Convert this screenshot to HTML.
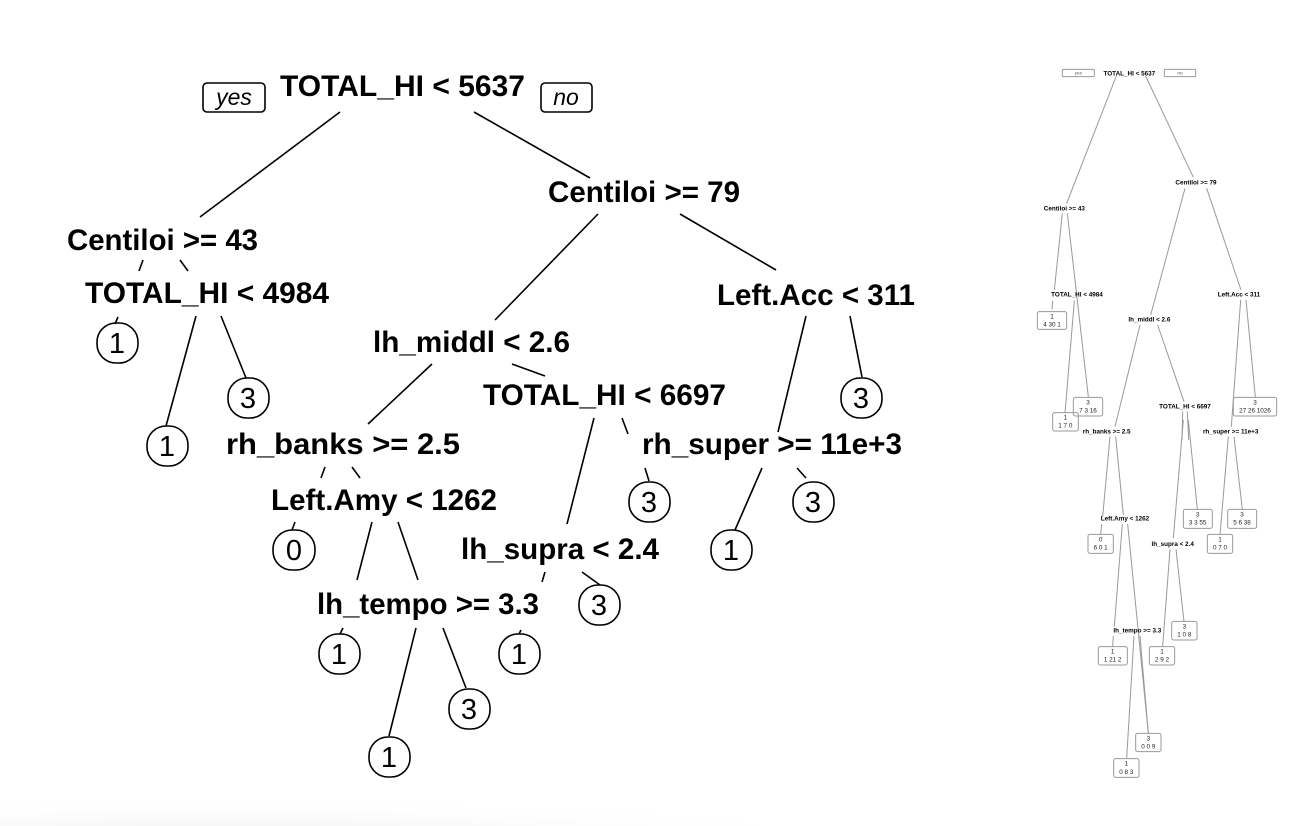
<!DOCTYPE html>
<html><head><meta charset="utf-8"><style>
html,body{margin:0;padding:0;background:#fff;}
svg{display:block;}
.l{font-family:"Liberation Sans",sans-serif;font-weight:bold;font-size:30px;fill:#000;}
.n{font-family:"Liberation Sans",sans-serif;font-size:29px;fill:#000;text-anchor:middle;}
.s{font-family:"Liberation Sans",sans-serif;font-weight:bold;font-size:19px;fill:#000;text-anchor:middle;}
.b{font-family:"Liberation Sans",sans-serif;font-size:19px;fill:#222;text-anchor:middle;}
</style></head><body>
<svg width="1306" height="826" viewBox="0 0 1306 826" xmlns="http://www.w3.org/2000/svg">
<defs><radialGradient id="sh" cx="0.3" cy="1.3" r="0.9"><stop offset="0" stop-color="#ececec"/><stop offset="1" stop-color="#fff" stop-opacity="0"/></radialGradient></defs>
<rect x="0" y="780" width="760" height="46" fill="url(#sh)"/>
<g stroke="#000" stroke-width="1.6" fill="none">
<line x1="340" y1="112" x2="200" y2="217"/><line x1="474" y1="112" x2="590" y2="178"/>
<line x1="143" y1="260" x2="139" y2="271"/><line x1="180" y1="260" x2="188" y2="271"/>
<line x1="118" y1="317" x2="115" y2="324"/><line x1="196" y1="316" x2="166" y2="426"/><line x1="221" y1="316" x2="246" y2="378"/>
<line x1="598" y1="214" x2="495" y2="320"/><line x1="680" y1="214" x2="776" y2="270"/>
<line x1="432" y1="364" x2="368" y2="424"/><line x1="512" y1="364" x2="545" y2="376"/>
<line x1="806" y1="316" x2="778" y2="432"/><line x1="850" y1="316" x2="862" y2="377"/>
<line x1="594" y1="418" x2="567" y2="524"/><line x1="622" y1="418" x2="628" y2="434"/>
<line x1="325" y1="467" x2="321" y2="478"/><line x1="352" y1="467" x2="360" y2="478"/>
<line x1="762" y1="468" x2="735" y2="530"/><line x1="797" y1="468" x2="806" y2="478"/>
<line x1="645" y1="468" x2="649" y2="481"/>
<line x1="295" y1="522" x2="292" y2="530"/><line x1="372" y1="522" x2="357" y2="580"/><line x1="398" y1="522" x2="418" y2="580"/>
<line x1="545" y1="572" x2="542" y2="582"/><line x1="582" y1="572" x2="600" y2="585"/>
<line x1="343" y1="628" x2="340" y2="634"/><line x1="416" y1="628" x2="389" y2="736"/><line x1="443" y1="628" x2="466" y2="688"/>
<line x1="521" y1="630" x2="519" y2="634"/>
<rect x="203" y="83" width="62" height="29" rx="4"/><rect x="541" y="83" width="51" height="29" rx="4"/>
<rect x="97" y="323" width="41" height="40" rx="19"/>
<rect x="228" y="378" width="41" height="40" rx="19"/>
<rect x="147" y="426" width="41" height="40" rx="19"/>
<rect x="841" y="378" width="41" height="40" rx="19"/>
<rect x="273" y="530" width="42" height="40" rx="19"/>
<rect x="629" y="482" width="41" height="40" rx="19"/>
<rect x="793" y="482" width="41" height="40" rx="19"/>
<rect x="711" y="530" width="41" height="40" rx="19"/>
<rect x="579" y="585" width="41" height="40" rx="19"/>
<rect x="319" y="634" width="41" height="40" rx="19"/>
<rect x="499" y="634" width="41" height="40" rx="19"/>
<rect x="449" y="689" width="41" height="40" rx="19"/>
<rect x="369" y="737" width="41" height="40" rx="19"/>
</g>
<g class="l">
<text class="l" x="280" y="96" textLength="245" lengthAdjust="spacingAndGlyphs">TOTAL_HI &lt; 5637</text>
<text class="l" x="548" y="202" textLength="192" lengthAdjust="spacingAndGlyphs">Centiloi &gt;= 79</text>
<text class="l" x="67" y="250" textLength="191" lengthAdjust="spacingAndGlyphs">Centiloi &gt;= 43</text>
<text class="l" x="85" y="303" textLength="244" lengthAdjust="spacingAndGlyphs">TOTAL_HI &lt; 4984</text>
<text class="l" x="717" y="305" textLength="198" lengthAdjust="spacingAndGlyphs">Left.Acc &lt; 311</text>
<text class="l" x="373" y="352" textLength="197" lengthAdjust="spacingAndGlyphs">lh_middl &lt; 2.6</text>
<text class="l" x="483" y="405" textLength="243" lengthAdjust="spacingAndGlyphs">TOTAL_HI &lt; 6697</text>
<text class="l" x="226" y="454" textLength="234" lengthAdjust="spacingAndGlyphs">rh_banks &gt;= 2.5</text>
<text class="l" x="642" y="454" textLength="260" lengthAdjust="spacingAndGlyphs">rh_super &gt;= 11e+3</text>
<text class="l" x="271" y="510" textLength="226" lengthAdjust="spacingAndGlyphs">Left.Amy &lt; 1262</text>
<text class="l" x="461" y="559" textLength="198" lengthAdjust="spacingAndGlyphs">lh_supra &lt; 2.4</text>
<text class="l" x="317" y="614" textLength="222" lengthAdjust="spacingAndGlyphs">lh_tempo &gt;= 3.3</text>
</g>
<text x="234" y="105" font-family="Liberation Sans" font-style="italic" font-size="23" text-anchor="middle">yes</text>
<text x="566" y="105" font-family="Liberation Sans" font-style="italic" font-size="23" text-anchor="middle">no</text>
<text class="n" x="117" y="353">1</text><text class="n" x="248" y="408">3</text><text class="n" x="167" y="456">1</text>
<text class="n" x="861" y="408">3</text><text class="n" x="294" y="560">0</text><text class="n" x="649" y="512">3</text>
<text class="n" x="813" y="512">3</text><text class="n" x="731" y="560">1</text><text class="n" x="599" y="615">3</text>
<text class="n" x="339" y="664">1</text><text class="n" x="519" y="664">1</text><text class="n" x="469" y="719">3</text>
<text class="n" x="389" y="767">1</text>

<g transform="translate(1030,60) scale(0.33333)">
<g stroke="#999" stroke-width="3" fill="none">
<rect x="97" y="28" width="96" height="22" rx="3"/><rect x="403" y="28" width="94" height="22" rx="3"/>
<line x1="259" y1="48" x2="110" y2="430"/><line x1="347" y1="48" x2="490" y2="352"/>
<line x1="97" y1="460" x2="73" y2="690"/><line x1="112" y1="460" x2="175" y2="1010"/>
<line x1="68" y1="722" x2="66" y2="748"/><line x1="133" y1="722" x2="105" y2="1060"/>
<line x1="465" y1="385" x2="362" y2="765"/><line x1="530" y1="385" x2="633" y2="690"/>
<line x1="330" y1="795" x2="255" y2="1100"/><line x1="383" y1="795" x2="462" y2="1025"/>
<line x1="632" y1="720" x2="604" y2="1100"/><line x1="648" y1="720" x2="676" y2="1012"/>
<line x1="458" y1="1055" x2="456" y2="1140"/><line x1="472" y1="1055" x2="476" y2="1140"/>
<rect x="22" y="755" width="88" height="53" rx="6"/>
<rect x="130" y="1012" width="88" height="56" rx="6"/>
<rect x="68" y="1058" width="77" height="55" rx="6"/>
<rect x="610" y="1012" width="130" height="56" rx="6"/>
</g>
<text x="145" y="44" font-family="Liberation Sans" font-size="14" font-style="italic" text-anchor="middle" fill="#555">yes</text>
<text x="450" y="44" font-family="Liberation Sans" font-size="14" font-style="italic" text-anchor="middle" fill="#555">no</text>
<text class="s" x="298" y="46">TOTAL_HI &lt; 5637</text>
<text class="s" x="498" y="374">Centiloi &gt;= 79</text>
<text class="s" x="103" y="451">Centiloi &gt;= 43</text>
<text class="s" x="141" y="710">TOTAL_HI &lt; 4984</text>
<text class="s" x="627" y="710">Left.Acc &lt; 311</text>
<text class="s" x="358" y="785">lh_middl &lt; 2.6</text>
<text class="s" x="465" y="1046">TOTAL_HI &lt; 6697</text>
<text class="b" x="66" y="776">1</text><text class="b" x="66" y="800">4 30 1</text>
<text class="b" x="174" y="1033">3</text><text class="b" x="174" y="1058">7 3 16</text>
<text class="b" x="106" y="1079">1</text><text class="b" x="106" y="1103">1 7 0</text>
<text class="b" x="675" y="1033">3</text><text class="b" x="675" y="1058">27 26 1026</text>
</g>
<g transform="translate(1080,420) scale(0.33333)">
<g stroke="#999" stroke-width="3" fill="none">
<line x1="90" y1="50" x2="68" y2="290"/><line x1="107" y1="50" x2="130" y2="285"/>
<line x1="445" y1="50" x2="420" y2="345"/><line x1="462" y1="50" x2="487" y2="268"/>
<line x1="310" y1="0" x2="280" y2="355"/><line x1="325" y1="0" x2="352" y2="268"/>
<line x1="65" y1="312" x2="62" y2="342"/><line x1="127" y1="312" x2="103" y2="620"/>
<line x1="143" y1="312" x2="205" y2="940"/>
<line x1="270" y1="388" x2="248" y2="678"/><line x1="288" y1="388" x2="312" y2="605"/>
<line x1="100" y1="648" x2="98" y2="680"/><line x1="162" y1="648" x2="140" y2="1015"/><line x1="180" y1="648" x2="205" y2="940"/>
<rect x="24" y="343" width="76" height="57" rx="6"/>
<rect x="310" y="268" width="87" height="57" rx="6"/>
<rect x="443" y="268" width="87" height="57" rx="6"/>
<rect x="382" y="343" width="76" height="57" rx="6"/>
<rect x="275" y="604" width="76" height="56" rx="6"/>
<rect x="55" y="680" width="87" height="55" rx="6"/>
<rect x="208" y="680" width="76" height="55" rx="6"/>
<rect x="167" y="940" width="76" height="55" rx="6"/>
<rect x="101" y="1016" width="76" height="56" rx="6"/>
</g>
<text class="s" x="80" y="41">rh_banks &gt;= 2.5</text>
<text class="s" x="452" y="41">rh_super &gt;= 11e+3</text>
<text class="s" x="135" y="301">Left.Amy &lt; 1262</text>
<text class="s" x="278" y="378">lh_supra &lt; 2.4</text>
<text class="s" x="172" y="638">lh_tempo &gt;= 3.3</text>
<text class="b" x="62" y="364">0</text><text class="b" x="62" y="389">6 0 1</text>
<text class="b" x="353" y="289">3</text><text class="b" x="353" y="314">3 3 55</text>
<text class="b" x="486" y="289">3</text><text class="b" x="486" y="314">5 6 38</text>
<text class="b" x="420" y="364">1</text><text class="b" x="420" y="389">0 7 0</text>
<text class="b" x="313" y="625">3</text><text class="b" x="313" y="650">1 0 8</text>
<text class="b" x="98" y="701">1</text><text class="b" x="98" y="725">1 21 2</text>
<text class="b" x="246" y="701">1</text><text class="b" x="246" y="725">2 9 2</text>
<text class="b" x="205" y="961">3</text><text class="b" x="205" y="985">0 0 9</text>
<text class="b" x="139" y="1037">1</text><text class="b" x="139" y="1062">0 8 3</text>
</g>
</svg>
</body></html>
